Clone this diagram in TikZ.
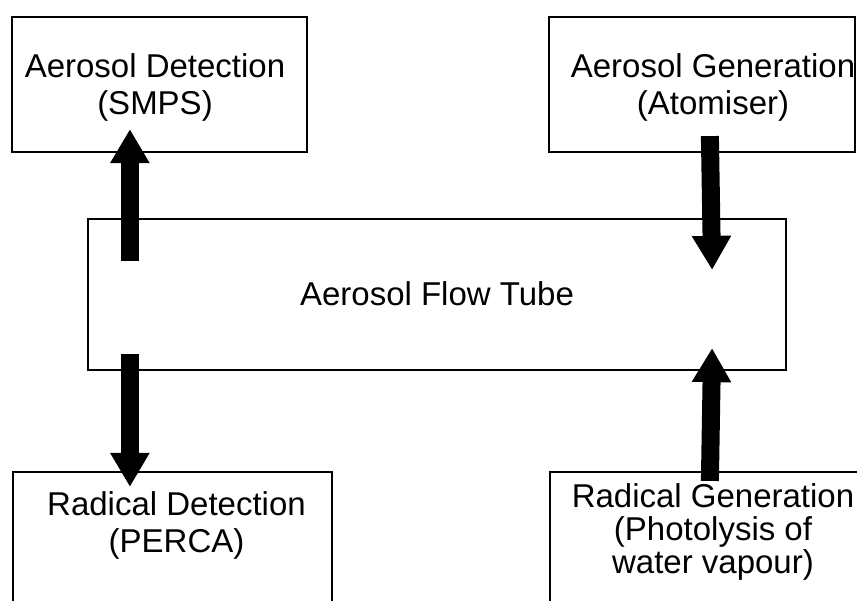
\documentclass[tikz,border=0pt]{standalone}
\usepackage{fontspec}
\setmainfont{Liberation Sans}
\usetikzlibrary{arrows.meta}
\begin{document}
\begin{tikzpicture}[x=1pt,y=-1pt,
  box/.style={draw, line width=2.2pt, inner sep=0pt},
  lbl/.style={align=center, font=\fontsize{33}{37}\selectfont, inner sep=0pt},
  flow/.style={line width=18pt, -{Triangle[width=37pt,length=34pt]}}]
\useasboundingbox (0,0) rectangle (857,600);
\clip (0,0) rectangle (857,600);
\fill[white] (0,0) rectangle (857,600);

% boxes
\node[box, minimum width=295pt, minimum height=135pt] (smps) at (159.5,84.5) {};
\node[box, minimum width=306pt, minimum height=135pt] (atom) at (702,84.5) {};
\node[box, minimum width=698pt, minimum height=151pt] (tube) at (437,294.5) {};
\node[box, minimum width=319pt, minimum height=168pt] (perca) at (172.5,556) {};
\node[box, minimum width=330pt, minimum height=168pt] (photo) at (715,556) {};

% labels
\node[lbl] (smpsT) at (155,87) {Aerosol Detection\\(SMPS)};
\node[lbl] (atomT) at (713,87.5) {Aerosol Generation\\(Atomiser)};
\node[lbl, anchor=base] (tubeT) at (437,305) {Aerosol Flow Tube};
\node[lbl] (percaT) at (176.5,525.5) {Radical Detection\\(PERCA)};
\node[lbl, font=\fontsize{33}{33}\selectfont] (photoT) at (713,532) {Radical Generation\\(Photolysis of\\water vapour)};

% flows
\draw[flow] ([shift={(43,43)}]tube.north west) -- ([shift={(119,-24)}]smps.south west);
\draw[flow] ([shift={(162,-17)}]atom.south west) -- ([shift={(-75,52)}]tube.north east);
\draw[flow] ([shift={(43,-17)}]tube.south west) -- ([shift={(118,16)}]perca.north west);
\draw[flow] ([shift={(161,10)}]photo.north west) -- ([shift={(-75,-23)}]tube.south east);
\end{tikzpicture}
\end{document}
